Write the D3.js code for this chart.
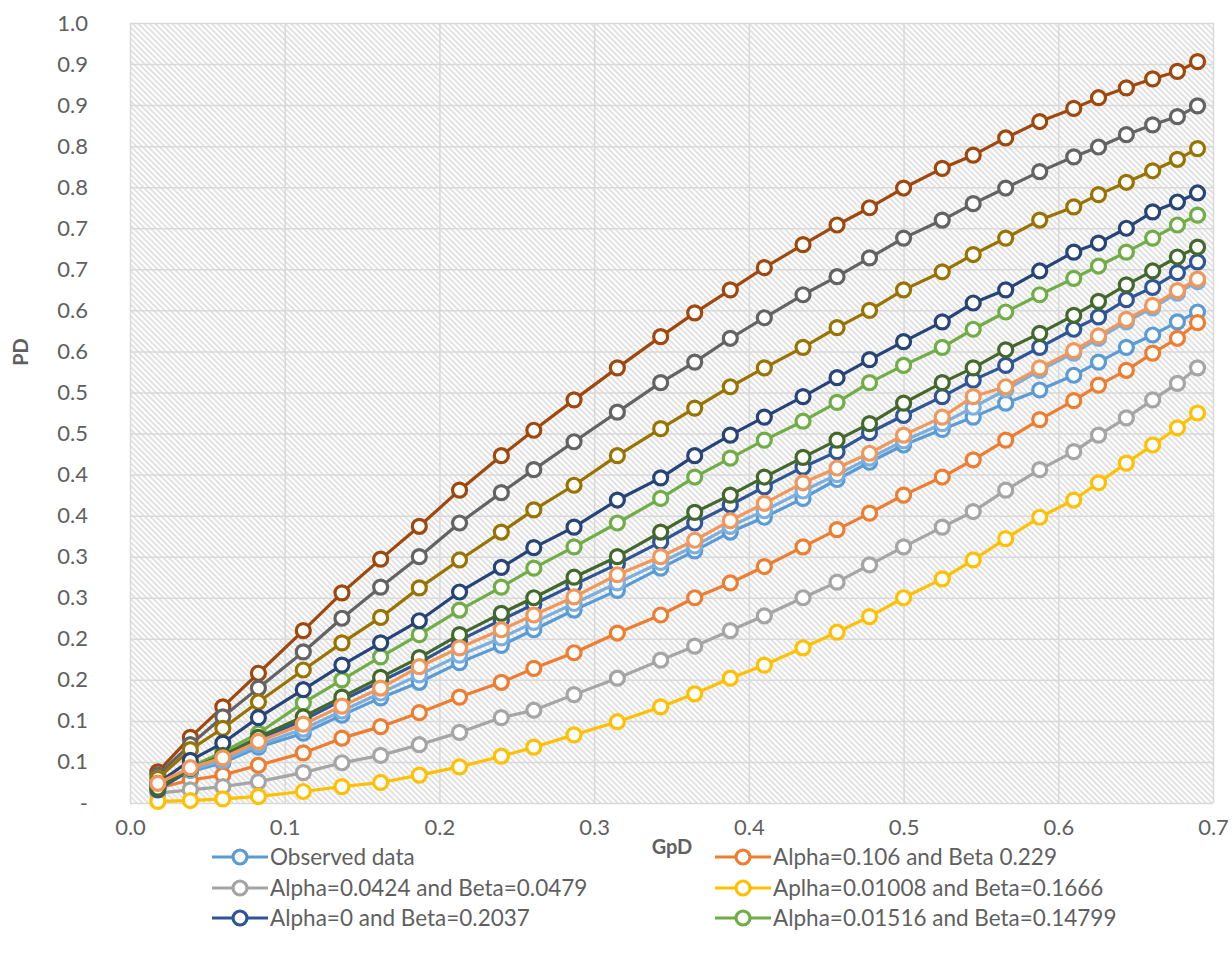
<!DOCTYPE html>
<html>
<head>
<meta charset="utf-8">
<script src="https://cdn.jsdelivr.net/npm/d3@7"></script>
<style>
  html, body { margin: 0; padding: 0; background: #ffffff; }
  svg { display: block; font-family: Lato, "Open Sans", sans-serif; }
</style>
</head>
<body>
<svg id="chart" width="1232" height="963"></svg>
<script>
// GpD values shared by every series
const gpd = [0.018, 0.039, 0.060, 0.083, 0.112, 0.137, 0.162, 0.187, 0.213, 0.240,
             0.261, 0.287, 0.315, 0.343, 0.365, 0.388, 0.410, 0.435, 0.457, 0.478,
             0.500, 0.525, 0.545, 0.566, 0.588, 0.610, 0.626, 0.644, 0.661, 0.677, 0.690];

// PD per series
const observed = [0.022, 0.038, 0.049, 0.068, 0.085, 0.107, 0.128, 0.147, 0.171, 0.192,
                  0.211, 0.235, 0.259, 0.286, 0.307, 0.330, 0.348, 0.371, 0.394, 0.415,
                  0.436, 0.455, 0.470, 0.487, 0.503, 0.521, 0.537, 0.555, 0.570, 0.586, 0.598];
const fitA106 = [0.018, 0.028, 0.034, 0.046, 0.061, 0.079, 0.093, 0.110, 0.129, 0.147,
                 0.164, 0.183, 0.207, 0.229, 0.250, 0.268, 0.288, 0.312, 0.333, 0.353,
                 0.375, 0.397, 0.418, 0.442, 0.467, 0.490, 0.509, 0.527, 0.548, 0.566, 0.585];
const fitA0424 = [0.012, 0.016, 0.020, 0.026, 0.037, 0.049, 0.058, 0.071, 0.086, 0.104,
                  0.113, 0.132, 0.152, 0.174, 0.191, 0.210, 0.228, 0.250, 0.269, 0.290,
                  0.312, 0.336, 0.355, 0.381, 0.406, 0.428, 0.448, 0.469, 0.491, 0.511, 0.530];
const fitA01008 = [0.002, 0.003, 0.005, 0.008, 0.014, 0.020, 0.025, 0.034, 0.044, 0.057,
                   0.068, 0.083, 0.099, 0.117, 0.133, 0.152, 0.168, 0.189, 0.208, 0.227,
                   0.250, 0.273, 0.296, 0.322, 0.348, 0.369, 0.390, 0.414, 0.436, 0.457, 0.475];
const fitA0 = [0.016, 0.040, 0.056, 0.077, 0.101, 0.125, 0.148, 0.171, 0.198, 0.223,
               0.242, 0.266, 0.291, 0.318, 0.341, 0.363, 0.385, 0.409, 0.428, 0.451,
               0.472, 0.495, 0.515, 0.533, 0.555, 0.577, 0.592, 0.613, 0.628, 0.646, 0.659];
const fitA01516 = [0.020, 0.044, 0.062, 0.085, 0.122, 0.150, 0.178, 0.205, 0.235, 0.263,
                   0.286, 0.312, 0.341, 0.371, 0.397, 0.420, 0.442, 0.465, 0.488, 0.512,
                   0.533, 0.555, 0.577, 0.598, 0.619, 0.639, 0.654, 0.671, 0.688, 0.704, 0.716];
const fit7 = [0.023, 0.040, 0.052, 0.071, 0.090, 0.112, 0.134, 0.156, 0.180, 0.201,
              0.220, 0.243, 0.268, 0.293, 0.313, 0.337, 0.356, 0.380, 0.400, 0.420,
              0.441, 0.462, 0.482, 0.503, 0.527, 0.548, 0.566, 0.586, 0.603, 0.621, 0.635];
const fit8 = [0.038, 0.080, 0.117, 0.158, 0.210, 0.256, 0.297, 0.337, 0.381, 0.423,
              0.454, 0.491, 0.530, 0.568, 0.597, 0.625, 0.652, 0.680, 0.704, 0.725,
              0.749, 0.773, 0.789, 0.810, 0.830, 0.846, 0.859, 0.871, 0.882, 0.891, 0.903];
const fit9 = [0.034, 0.071, 0.105, 0.140, 0.184, 0.225, 0.263, 0.300, 0.341, 0.378,
              0.406, 0.440, 0.476, 0.512, 0.537, 0.566, 0.591, 0.619, 0.641, 0.664,
              0.688, 0.710, 0.730, 0.749, 0.769, 0.787, 0.799, 0.814, 0.826, 0.836, 0.849];
const fit10 = [0.030, 0.065, 0.091, 0.123, 0.162, 0.195, 0.226, 0.262, 0.296, 0.330,
               0.357, 0.387, 0.423, 0.456, 0.481, 0.507, 0.530, 0.555, 0.579, 0.600,
               0.625, 0.647, 0.668, 0.688, 0.710, 0.726, 0.741, 0.756, 0.770, 0.784, 0.797];
const fit11 = [0.024, 0.052, 0.073, 0.104, 0.138, 0.168, 0.195, 0.222, 0.257, 0.287,
               0.311, 0.336, 0.369, 0.396, 0.423, 0.448, 0.470, 0.495, 0.518, 0.540,
               0.562, 0.586, 0.609, 0.625, 0.648, 0.671, 0.682, 0.700, 0.720, 0.732, 0.743];
const fit12 = [0.018, 0.042, 0.058, 0.080, 0.105, 0.129, 0.153, 0.177, 0.205, 0.231,
               0.250, 0.275, 0.300, 0.330, 0.354, 0.375, 0.397, 0.421, 0.442, 0.462,
               0.487, 0.512, 0.530, 0.552, 0.572, 0.594, 0.611, 0.631, 0.648, 0.665, 0.677];
const fit13 = [0.024, 0.043, 0.055, 0.075, 0.096, 0.118, 0.140, 0.166, 0.189, 0.211,
               0.229, 0.251, 0.278, 0.300, 0.320, 0.344, 0.365, 0.390, 0.408, 0.426,
               0.448, 0.470, 0.495, 0.507, 0.530, 0.551, 0.569, 0.589, 0.606, 0.624, 0.638];

const seriesNames = ["Observed data", "Alpha=0.106 and Beta 0.229", "Alpha=0.0424 and Beta=0.0479",
                     "Aplha=0.01008 and Beta=0.1666", "Alpha=0 and Beta=0.2037", "Alpha=0.01516 and Beta=0.14799",
                     "Fit 7", "Fit 8", "Fit 9", "Fit 10", "Fit 11", "Fit 12", "Fit 13"];
const seriesValues = [observed, fitA106, fitA0424, fitA01008, fitA0, fitA01516,
                      fit7, fit8, fit9, fit10, fit11, fit12, fit13];
const seriesColors = ["#5B9BD5", "#ED7D31", "#A5A5A5", "#FFC000", "#2F5597", "#70AD47",
                      "#7CAFDD", "#9E480E", "#636363", "#997300", "#264478", "#43682B", "#F1975A"];

// Axis ticks
const xTickValues = [0, 0.1, 0.2, 0.3, 0.4, 0.5, 0.6, 0.7];
const xTickLabels = ["0.0", "0.1", "0.2", "0.3", "0.4", "0.5", "0.6", "0.7"];
const yTickValues = [0, 0.05, 0.10, 0.15, 0.20, 0.25, 0.30, 0.35, 0.40, 0.45,
                     0.50, 0.55, 0.60, 0.65, 0.70, 0.75, 0.80, 0.85, 0.90, 0.95];
const yTickLabels = ["-", "0.1", "0.1", "0.2", "0.2", "0.3", "0.3", "0.4", "0.4", "0.5",
                     "0.5", "0.6", "0.6", "0.7", "0.7", "0.8", "0.8", "0.9", "0.9", "1.0"];

const legendCount = 6;

// ---- layout ----
const svg = d3.select("#chart");
const plot = { left: 130, right: 1213, top: 23, bottom: 803 };
const textColor = "#5f5f5f";

const x = d3.scaleLinear().domain([0, 0.7]).range([plot.left, plot.right]);
const y = d3.scaleLinear().domain([0, 0.95]).range([plot.bottom, plot.top]);

// diagonal hatch fill for the plot area
const defs = svg.append("defs");
const pat = defs.append("pattern")
  .attr("id", "hatch")
  .attr("patternUnits", "userSpaceOnUse")
  .attr("width", 4).attr("height", 4)
  .attr("patternTransform", "rotate(-45)");
pat.append("rect").attr("width", 4).attr("height", 4).attr("fill", "#ffffff");
pat.append("line").attr("x1", 1).attr("y1", 0).attr("x2", 1).attr("y2", 4)
  .attr("stroke", "#d6d6d6").attr("stroke-width", 1.4);

svg.append("rect")
  .attr("x", plot.left).attr("y", plot.top)
  .attr("width", plot.right - plot.left).attr("height", plot.bottom - plot.top)
  .attr("fill", "url(#hatch)");

// gridlines
const yGrid = d3.axisLeft(y).tickValues(yTickValues)
  .tickSize(-(plot.right - plot.left)).tickFormat("");
svg.append("g").attr("transform", `translate(${plot.left},0)`).call(yGrid)
  .call(g => g.select(".domain").remove())
  .call(g => g.selectAll("line").attr("stroke", "#d9d9d9").attr("stroke-width", 1.5));

const xGrid = d3.axisBottom(x).tickValues(xTickValues)
  .tickSize(-(plot.bottom - plot.top)).tickFormat("");
svg.append("g").attr("transform", `translate(0,${plot.bottom})`).call(xGrid)
  .call(g => g.select(".domain").remove())
  .call(g => g.selectAll("line").attr("stroke", "#d9d9d9").attr("stroke-width", 1.5));

// axis labels
const yAxis = d3.axisLeft(y).tickValues(yTickValues).tickSize(0).tickPadding(42)
  .tickFormat((d, i) => yTickLabels[i]);
svg.append("g").attr("transform", `translate(${plot.left},0)`).call(yAxis)
  .call(g => g.select(".domain").remove())
  .call(g => g.selectAll("text").attr("fill", textColor)
    .style("font-size", "22px").style("font-family", "Lato, 'Open Sans', sans-serif"));

const xAxis = d3.axisBottom(x).tickValues(xTickValues).tickSize(0).tickPadding(16)
  .tickFormat((d, i) => xTickLabels[i]);
svg.append("g").attr("transform", `translate(0,${plot.bottom})`).call(xAxis)
  .call(g => g.select(".domain").remove())
  .call(g => g.selectAll("text").attr("fill", textColor)
    .style("font-size", "22px").style("font-family", "Lato, 'Open Sans', sans-serif"));

// axis titles
svg.append("text")
  .attr("transform", "translate(28,352) rotate(-90)")
  .attr("text-anchor", "middle")
  .attr("fill", textColor).attr("font-weight", "bold").attr("font-size", 20)
  .text("PD");

svg.append("text")
  .attr("x", 672).attr("y", 854)
  .attr("text-anchor", "middle")
  .attr("fill", textColor).attr("font-weight", "bold").attr("font-size", 20)
  .text("GpD");

// series lines and markers
const line = d3.line().x((d, i) => x(gpd[i])).y(d => y(d));
const seriesG = svg.append("g");
seriesValues.forEach((vals, si) => {
  const g = seriesG.append("g");
  g.append("path")
    .attr("d", line(vals))
    .attr("fill", "none")
    .attr("stroke", seriesColors[si])
    .attr("stroke-width", 3.2)
    .attr("stroke-linejoin", "round");
  g.selectAll("circle").data(vals).join("circle")
    .attr("cx", (d, i) => x(gpd[i]))
    .attr("cy", d => y(d))
    .attr("r", 7)
    .attr("fill", "#ffffff")
    .attr("stroke", seriesColors[si])
    .attr("stroke-width", 3.2);
});

// legend, two columns
const legendCols = [212, 715];
const legendRows = [857, 888, 918];
const legend = svg.append("g");
d3.range(legendCount).forEach(i => {
  const lx = legendCols[i % 2];
  const ly = legendRows[Math.floor(i / 2)];
  const item = legend.append("g").attr("transform", `translate(${lx},${ly})`);
  item.append("line").attr("x1", 0).attr("x2", 56).attr("y1", 0).attr("y2", 0)
    .attr("stroke", seriesColors[i]).attr("stroke-width", 3.2);
  item.append("circle").attr("cx", 28).attr("cy", 0).attr("r", 7)
    .attr("fill", "#ffffff").attr("stroke", seriesColors[i]).attr("stroke-width", 3.2);
  item.append("text").attr("x", 58).attr("y", 0).attr("dy", "0.35em")
    .attr("fill", textColor).attr("font-size", 22.5)
    .text(seriesNames[i]);
});
</script>
</body>
</html>
